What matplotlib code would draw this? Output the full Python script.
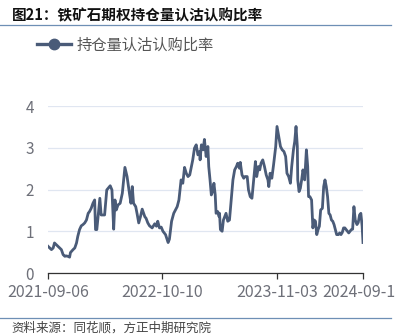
import matplotlib
matplotlib.use("Agg")
import matplotlib.pyplot as plt
from matplotlib.lines import Line2D

plt.rcParams['font.family'] = ['Noto Sans CJK SC', 'DejaVu Sans']

# trading-day index (0 = 2021-09-06) and the put/call open-interest ratio
day = [0, 4, 8, 12, 15, 19, 23, 27, 31, 35, 39, 42, 46, 50, 52, 58, 62, 66, 69, 73,
       77, 81, 85, 89, 93, 96, 100, 104, 108, 110, 113, 120, 123, 131, 136, 144, 148, 152, 155, 158,
       162, 167, 172, 178, 183, 189, 192, 195, 198, 203, 206, 210, 214, 218, 224, 227, 231, 235, 241, 247,
       251, 254, 258, 262, 266, 272, 278, 281, 286, 291, 295, 299, 303, 308, 312, 316, 320, 324, 328, 332,
       335, 339, 343, 347, 351, 352, 355, 359, 362, 366, 370, 372, 375, 378, 382, 384, 387, 389, 393, 396,
       397, 399, 403, 406, 409, 412, 416, 420, 424, 428, 432, 436, 439, 443, 445, 449, 453, 456, 461, 464,
       468, 472, 476, 480, 483, 487, 490, 493, 497, 501, 505, 509, 511, 514, 518, 522, 527, 530, 534, 538,
       542, 546, 550, 553, 557, 561, 564, 568, 571, 574, 577, 578, 581, 584, 587, 590, 593, 594, 598, 601,
       603, 606, 610, 613, 616, 619, 622, 625, 628, 631, 635, 638, 641, 644, 647, 650, 653, 656, 659, 662,
       665, 668, 672, 675, 678, 681, 684, 687, 690, 693, 696, 699, 702, 705, 708, 711, 715, 718, 721, 724,
       727, 729]
ratio = [0.64, 0.60, 0.56, 0.60, 0.72, 0.68, 0.64, 0.60, 0.56, 0.44, 0.40, 0.41, 0.40, 0.38, 0.49, 0.56, 0.60, 0.72, 0.88, 1.04,
         1.13, 1.16, 1.20, 1.27, 1.43, 1.47, 1.55, 1.67, 1.75, 1.04, 1.04, 1.79, 1.39, 1.39, 1.99, 2.09, 1.99, 1.05, 1.75, 1.51,
         1.63, 1.67, 1.91, 2.53, 2.31, 1.87, 1.67, 2.07, 1.67, 1.59, 1.43, 1.20, 1.35, 1.53, 1.35, 1.31, 1.20, 1.13, 1.08, 1.18,
         1.12, 1.24, 1.08, 1.10, 1.00, 0.92, 0.73, 0.81, 1.24, 1.43, 1.51, 1.59, 1.75, 2.23, 2.15, 2.53, 2.39, 2.31, 2.35, 2.55,
         2.71, 2.99, 3.07, 2.83, 2.91, 2.71, 3.07, 2.95, 3.20, 2.79, 3.03, 2.55, 2.23, 1.87, 1.99, 2.15, 1.87, 1.43, 1.47, 1.35,
         1.43, 1.04, 1.00, 1.27, 1.35, 1.43, 1.24, 1.27, 1.75, 2.23, 2.47, 2.55, 2.63, 2.51, 2.65, 2.35, 2.27, 2.31, 2.31, 1.99,
         1.83, 1.79, 2.23, 2.67, 2.31, 2.55, 2.47, 2.63, 2.71, 2.55, 2.35, 2.23, 2.07, 2.39, 2.27, 2.59, 3.03, 3.51, 3.27, 3.03,
         2.95, 2.91, 2.79, 2.39, 2.31, 2.15, 2.55, 2.95, 3.15, 3.51, 3.03, 2.23, 1.95, 2.03, 2.23, 2.47, 2.31, 2.23, 2.95, 2.55,
         1.83, 1.83, 1.75, 1.08, 1.27, 1.24, 0.92, 1.04, 1.12, 1.51, 1.55, 2.07, 2.23, 2.07, 1.83, 1.43, 1.39, 1.27, 1.24, 1.16,
         1.04, 0.92, 0.92, 0.96, 0.92, 0.97, 1.08, 1.08, 1.04, 1.00, 0.96, 1.00, 1.04, 1.05, 1.59, 1.27, 1.16, 1.21, 1.39, 1.43,
         1.12, 0.73]

tick_days = [0, 264, 530, 729]
tick_labels = ['2021-09-06', '2022-10-10', '2023-11-03', '2024-09-10']
y_ticks = [0, 1, 2, 3, 4]

line_color = '#4A5B78'
axis_gray = '#6E7079'

fig = plt.figure(figsize=(3.95, 3.34), dpi=100)
ax = fig.add_axes([0.1215, 0.1826, 0.7975, 0.5])

ax.plot(day, ratio, color=line_color, lw=2.0, solid_joinstyle='round')
ax.set_xlim(0, 729)
ax.set_ylim(0, 4)

ax.set_yticks(y_ticks)
ax.set_yticklabels([str(v) for v in y_ticks])
ax.set_xticks(tick_days)
ax.set_xticklabels(tick_labels)
ax.yaxis.grid(True, color='#E0E6F1', lw=0.9)
ax.set_axisbelow(True)

for s in ['left', 'right', 'top']:
    ax.spines[s].set_visible(False)
ax.spines['bottom'].set_color('#333333')
ax.spines['bottom'].set_linewidth(0.9)
ax.tick_params(axis='y', length=0, pad=10, labelsize=11, labelcolor=axis_gray)
ax.tick_params(axis='x', length=4, width=0.9, color='#333333', pad=4,
               labelsize=11.5, labelcolor=axis_gray)
for lbl in ax.get_xticklabels():
    lbl.set_clip_on(False)

# legend
leg_handle = Line2D([], [], color=line_color, lw=2.4, marker='o', markersize=7.5)
fig.legend(handles=[leg_handle], labels=['持仓量认沽认购比率'], loc='center left',
           bbox_to_anchor=(0.06, 0.865), frameon=False, fontsize=11,
           handlelength=2.2, handletextpad=0.35, labelcolor='#555555')

# title, rules and source note
fig.text(0.03, 0.955, '图21：铁矿石期权持仓量认沽认购比率', fontsize=10.5,
         fontweight='bold', va='center', ha='left', color='#111111')
fig.add_artist(Line2D([0.0, 0.99], [0.925, 0.925], color='#6E8FB5', lw=0.9))
fig.add_artist(Line2D([0.0, 0.99], [0.048, 0.048], color='#6E8FB5', lw=0.9))
fig.text(0.03, 0.018, '资料来源：同花顺，方正中期研究院', fontsize=9, style='italic',
         va='center', ha='left', color='#444444')

fig.savefig('out.png', dpi=100)
